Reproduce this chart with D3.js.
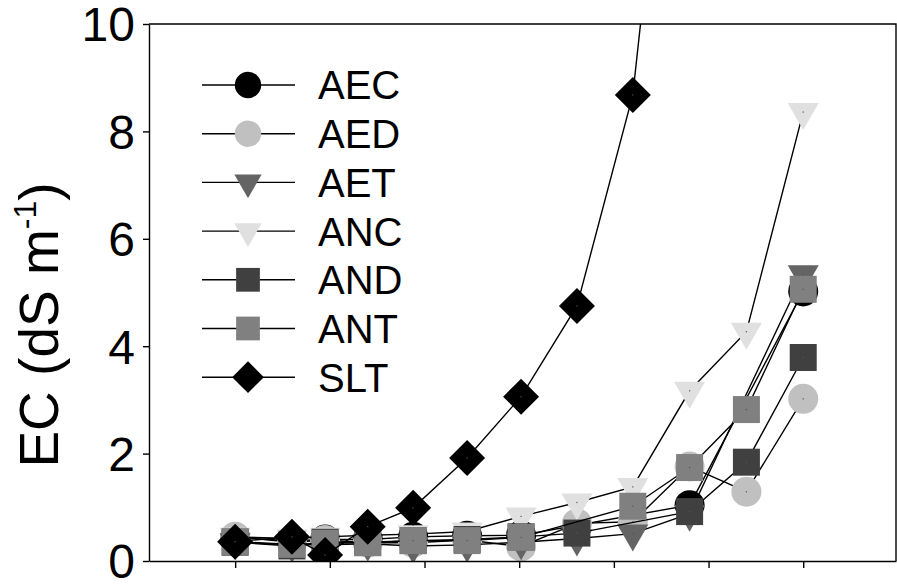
<!DOCTYPE html>
<html>
<head>
<meta charset="utf-8">
<script src="https://cdn.jsdelivr.net/npm/d3@7"></script>
<style>
  body { margin: 0; background: #fff; }
  text { font-family: Arial, "Liberation Sans", sans-serif; fill: #000; }
</style>
</head>
<body>
<div id="chart"></div>
<script>
var svgWidth = 897;
var svgHeight = 584;

// x positions of the samples (tick units, ticks 0..6 are unlabelled)
var xValues = [0, 0.6, 0.95, 1.4, 1.88, 2.45, 3.02, 3.61, 4.2, 4.8, 5.4, 6];

var seriesNames = ["AEC", "AED", "AET", "ANC", "AND", "ANT", "SLT"];

var aec = [0.43, 0.38, 0.40, 0.40, 0.45, 0.47, 0.48, null, null, 1.04, null, 5.02];
var aed = [0.45, 0.35, 0.39, 0.34, 0.34, 0.39, 0.27, 0.70, 0.73, 1.76, 1.29, 3.02];
var aet = [0.35, 0.30, 0.30, 0.32, 0.28, 0.30, 0.35, 0.42, 0.51, 0.88, null, 5.34];
var anc = [0.45, 0.42, 0.45, 0.48, 0.50, 0.55, 0.83, 1.09, 1.38, 3.17, 4.27, 8.36];
var and = [0.35, 0.28, 0.35, 0.35, 0.38, 0.40, 0.45, 0.52, null, 0.92, 1.84, 3.79];
var ant = [0.36, 0.31, 0.33, 0.34, 0.38, 0.38, 0.44, null, 1.02, 1.74, 2.82, 5.06];
var slt = [0.36, 0.45, 0.11, 0.64, 0.99, 1.92, 3.06, 4.75, 8.68, 18.4];

var yTicks = [0, 2, 4, 6, 8, 10];
var xTicks = [0, 1, 2, 3, 4, 5, 6];

var seriesValues = [aec, aed, aet, anc, and, ant, slt];
var markerShapes = ["circle", "circle", "triangle", "triangle", "square", "square", "diamond"];
var markerFills = ["#000000", "#c0c0c0", "#646464", "#e0e0e0", "#404040", "#808080", "#000000"];

var plot = {left: 149, right: 896, top: 24, bottom: 561};

var svg = d3.select("#chart")
  .append("svg")
  .attr("width", svgWidth)
  .attr("height", svgHeight);

var xScale = d3.scaleLinear()
  .domain([-0.91, 6.98])
  .range([plot.left, plot.right]);
var yScale = d3.scaleLinear()
  .domain([0, 10])
  .range([plot.bottom, plot.top]);

// marker path, k scales the size (legend markers are a bit smaller)
function markerPath(shape, k) {
  var p = d3.path();
  if (shape == "circle") {
    var r = 15 * k;
    p.moveTo(r, 0);
    p.arc(0, 0, r, 0, 2 * Math.PI);
  } else if (shape == "square") {
    var h = 13.5 * k;
    p.rect(-h, -h, 2 * h, 2 * h);
  } else if (shape == "triangle") {
    var w = 15.5 * k, t = 9 * k, b = 18 * k;
    p.moveTo(-w, -t);
    p.lineTo(w, -t);
    p.lineTo(0, b);
    p.closePath();
  } else {
    var d = 18 * k;
    p.moveTo(0, -d);
    p.lineTo(d, 0);
    p.lineTo(0, d);
    p.lineTo(-d, 0);
    p.closePath();
  }
  return p.toString();
}

svg.append("clipPath")
  .attr("id", "plotClip")
  .append("rect")
  .attr("x", plot.left)
  .attr("y", plot.top)
  .attr("width", plot.right - plot.left)
  .attr("height", plot.bottom - plot.top);

var dataGroup = svg.append("g").attr("clip-path", "url(#plotClip)");

var line = d3.line()
  .x(d => xScale(d.x))
  .y(d => yScale(d.y));

seriesValues.forEach(function(vals, i) {
  var pts = vals.map((v, j) => ({x: xValues[j], y: v})).filter(d => d.y != null);
  var g = dataGroup.append("g").attr("class", "series");

  g.append("path")
    .datum(pts)
    .attr("d", line)
    .attr("fill", "none")
    .attr("stroke", "#000")
    .attr("stroke-width", 1.4);

  var m = g.selectAll("g.mark")
    .data(pts)
    .enter()
    .append("g")
    .attr("class", "mark")
    .attr("transform", d => `translate(${xScale(d.x)},${yScale(d.y)})`);
  m.append("path")
    .attr("d", markerPath(markerShapes[i], 1))
    .attr("fill", markerFills[i]);
  m.append("rect")
    .attr("x", -0.6).attr("y", -0.6)
    .attr("width", 1.2).attr("height", 1.2)
    .attr("fill", "#555");
});

// axes
var xAxis = d3.axisBottom(xScale)
  .tickValues(xTicks)
  .tickFormat("")
  .tickSize(7)
  .tickSizeOuter(0);
var yAxis = d3.axisLeft(yScale)
  .tickValues(yTicks)
  .tickSize(6)
  .tickPadding(8)
  .tickSizeOuter(0);

var gx = svg.append("g")
  .attr("transform", `translate(0,${plot.bottom})`)
  .call(xAxis);
var gy = svg.append("g")
  .attr("transform", `translate(${plot.left},0)`)
  .call(yAxis);

[gx, gy].forEach(function(g) {
  g.selectAll("path, line").attr("stroke", "#000").attr("stroke-width", 1.4);
});
gy.selectAll("text")
  .attr("font-size", 48)
  .attr("dy", "0.35em")
  .attr("font-family", "Arial, 'Liberation Sans', sans-serif")
  .attr("fill", "#000");

// top and right frame
svg.append("path")
  .attr("d", `M${plot.left},${plot.top}H${plot.right}V${plot.bottom}`)
  .attr("fill", "none")
  .attr("stroke", "#000")
  .attr("stroke-width", 1.4);

// y axis title
var title = svg.append("text")
  .attr("transform", "translate(58,325) rotate(-90)")
  .attr("text-anchor", "middle")
  .attr("font-size", 55);
title.append("tspan").text("EC (dS m");
title.append("tspan").attr("font-size", 32).attr("dy", -22).text("-1");
title.append("tspan").attr("dy", 22).text(")");

// legend
var legend = svg.append("g").attr("class", "legend");
seriesNames.forEach(function(name, i) {
  var y = 85 + i * 48.7;
  legend.append("line")
    .attr("x1", 202).attr("x2", 295)
    .attr("y1", y).attr("y2", y)
    .attr("stroke", "#000")
    .attr("stroke-width", 1.4);
  legend.append("path")
    .attr("transform", `translate(248,${y})`)
    .attr("d", markerPath(markerShapes[i], 0.88))
    .attr("fill", markerFills[i]);
  legend.append("text")
    .attr("x", 318)
    .attr("y", y)
    .attr("dy", "0.36em")
    .attr("font-size", 40)
    .text(name);
});
</script>
</body>
</html>
